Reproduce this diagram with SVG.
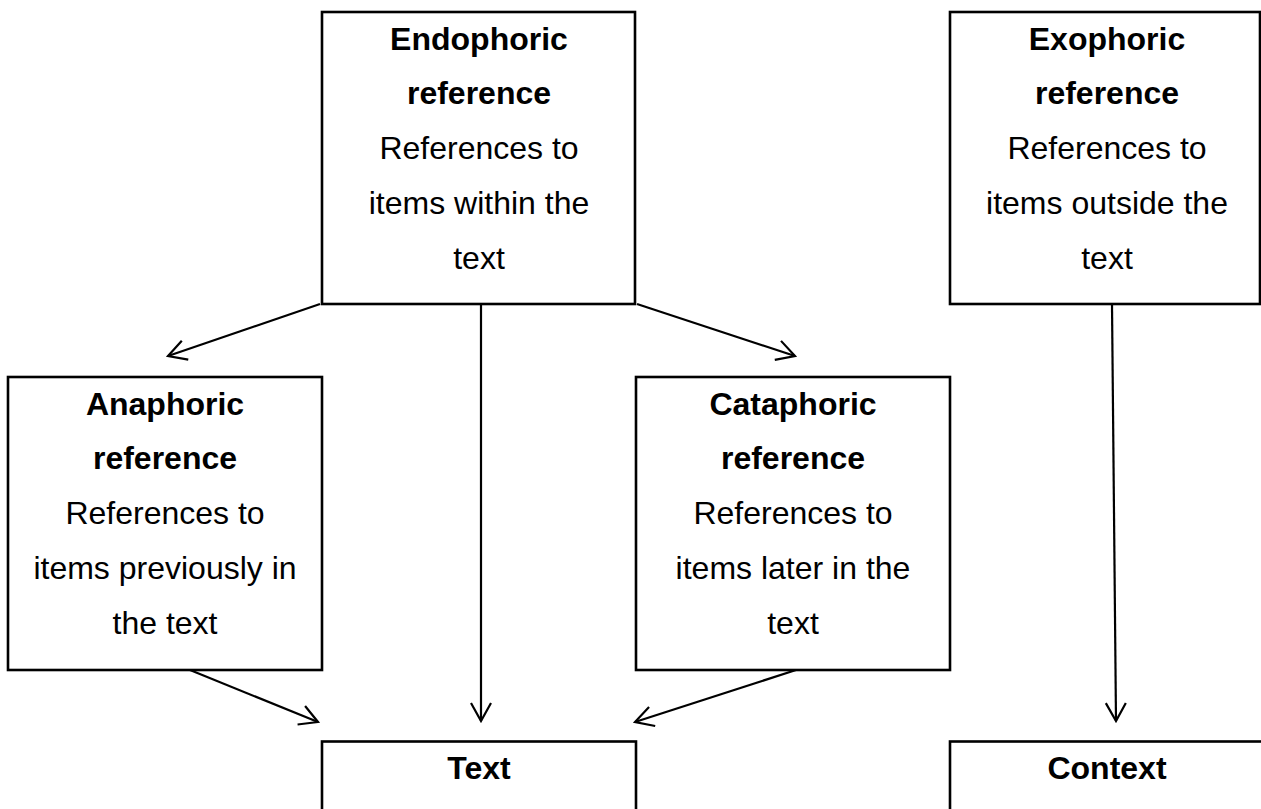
<svg xmlns="http://www.w3.org/2000/svg" width="1261" height="809" viewBox="0 0 1261 809">
<style>
  .box { fill: #ffffff; stroke: #000000; stroke-width: 2.6; }
  .t { font-family: "Liberation Sans", Arial, sans-serif; font-size: 32px; fill: #000000; text-anchor: middle; }
  .b { font-weight: bold; }
  .edge { fill: none; stroke: #000000; stroke-width: 2.2; marker-end: url(#arrow); }
</style>
<defs>
  <marker id="arrow" markerUnits="userSpaceOnUse" viewBox="-22 -12 24 24" refX="0" refY="0" markerWidth="24" markerHeight="24" orient="auto">
    <path d="M -18 -10 L 0 0 L -18 10" fill="none" stroke="#000000" stroke-width="2.2"/>
  </marker>
</defs>
<rect width="1261" height="809" fill="#ffffff"/>

<g id="connectors">
  <line class="edge" x1="320" y1="304" x2="168" y2="356"/>
  <line class="edge" x1="637" y1="304" x2="795" y2="356"/>
  <line class="edge" x1="481" y1="305" x2="481" y2="721"/>
  <line class="edge" x1="190" y1="670" x2="318" y2="722"/>
  <line class="edge" x1="796" y1="670" x2="635" y2="722"/>
  <line class="edge" x1="1112" y1="305" x2="1116" y2="721"/>
</g>

<g id="endophoric">
  <rect class="box" x="322" y="12" width="313" height="292"/>
  <text class="t b" x="479" y="49.5">Endophoric</text>
  <text class="t b" x="479" y="104.25">reference</text>
  <text class="t" x="479" y="159">References to</text>
  <text class="t" x="479" y="213.75">items within the</text>
  <text class="t" x="479" y="268.5">text</text>
</g>

<g id="exophoric">
  <rect class="box" x="950" y="12" width="310" height="292"/>
  <text class="t b" x="1107" y="49.5">Exophoric</text>
  <text class="t b" x="1107" y="104.25">reference</text>
  <text class="t" x="1107" y="159">References to</text>
  <text class="t" x="1107" y="213.75">items outside the</text>
  <text class="t" x="1107" y="268.5">text</text>
</g>

<g id="anaphoric">
  <rect class="box" x="8" y="377" width="314" height="293"/>
  <text class="t b" x="165" y="414.5">Anaphoric</text>
  <text class="t b" x="165" y="469.25">reference</text>
  <text class="t" x="165" y="524">References to</text>
  <text class="t" x="165" y="578.75">items previously in</text>
  <text class="t" x="165" y="633.5">the text</text>
</g>

<g id="cataphoric">
  <rect class="box" x="636" y="377" width="314" height="293"/>
  <text class="t b" x="793" y="414.5">Cataphoric</text>
  <text class="t b" x="793" y="469.25">reference</text>
  <text class="t" x="793" y="524">References to</text>
  <text class="t" x="793" y="578.75">items later in the</text>
  <text class="t" x="793" y="633.5">text</text>
</g>

<g id="text-node">
  <rect class="box" x="322" y="741.5" width="314" height="90"/>
  <text class="t b" x="479" y="778.5">Text</text>
</g>

<g id="context">
  <rect class="box" x="950" y="741.5" width="320" height="90"/>
  <text class="t b" x="1107" y="778.5">Context</text>
</g>
</svg>
